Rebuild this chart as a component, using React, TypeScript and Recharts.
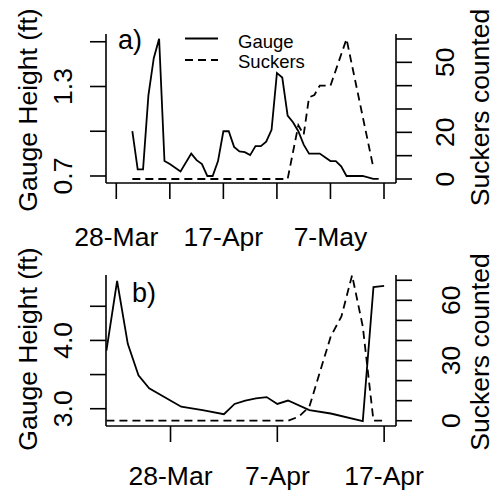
import React from 'react';
import { LineChart, Line, XAxis, YAxis, Customized } from 'recharts';

// ---- Panel a data (x = days after 28-Mar) ----
const gaugeADays = [3, 4, 5, 6, 7, 8, 9, 10, 12, 14, 15, 16, 17, 18, 19, 20, 21, 22, 23, 24, 25, 26, 27, 28, 29, 30, 31, 32, 33, 34, 35, 36, 38, 40, 41, 42, 43, 46, 48, 49];
const gaugeAValues = [1.0, 0.745, 0.745, 1.24, 1.49, 1.62, 0.8, 0.78, 0.73, 0.85, 0.806, 0.78, 0.7, 0.7, 0.8, 1.0, 1.0, 0.895, 0.865, 0.86, 0.84, 0.9, 0.9, 0.93, 1.01, 1.39, 1.36, 1.105, 1.06, 1.0, 0.91, 0.85, 0.85, 0.8, 0.8, 0.765, 0.7, 0.7, 0.68, 0.68];
const suckersADays = [3, 32, 34, 35, 36, 37, 38, 40, 43, 48];
const suckersAValues = [0, 0, 23, 19, 35, 36, 40, 40, 60, 5];

// ---- Panel b data (x = days after 28-Mar) ----
const gaugeBDays = [-6, -5, -4, -3, -2, 1, 3, 5, 6, 7, 8, 9, 10, 11, 13, 15, 18, 19, 20];
const gaugeBValues = [3.85, 4.87, 3.95, 3.49, 3.3, 3.03, 2.98, 2.92, 3.07, 3.12, 3.15, 3.17, 3.07, 3.12, 2.98, 2.93, 2.82, 4.78, 4.8];
const suckersBDays = [-6, 11, 12, 13, 15, 16, 17, 18, 19, 20];
const suckersBValues = [0, 0, 2, 7, 42, 52, 72.5, 47, 0, 0];

// ---- Ticks / labels ----
const xTicksA = [0, 10, 20, 30, 40, 50];
const xLabelsA: Record<number, string> = { 0: '28-Mar', 20: '17-Apr', 40: '7-May' };
const xTicksB = [0, 10, 20];
const xLabelsB: Record<number, string> = { 0: '28-Mar', 10: '7-Apr', 20: '17-Apr' };
const leftTicksA = [0.7, 1.0, 1.3, 1.6];
const leftLabelsA: Record<string, string> = { '0.7': '0.7', '1.3': '1.3' };
const rightTicksA = [0, 10, 20, 30, 40, 50, 60];
const rightLabelsA: Record<string, string> = { '0': '0', '20': '20', '50': '50' };
const leftTicksB = [3.0, 3.5, 4.0, 4.5];
const leftLabelsB: Record<string, string> = { '3': '3.0', '4': '4.0' };
const rightTicksB = [0, 10, 20, 30, 40, 50, 60, 70];
const rightLabelsB: Record<string, string> = { '0': '0', '30': '30', '60': '60' };

const FONT = '"Liberation Sans", Arial, sans-serif';
const FS = 26.5;

const zip = (xs: number[], ys: number[]) => xs.map((d, i) => ({ d, v: ys[i] }));

const W = 498;

function xTick(labels: Record<number, string>, baseline: number) {
  return (p: any) => {
    const lab = labels[p.payload.value];
    if (!lab) return <g />;
    return (
      <text x={p.x} y={baseline} textAnchor="middle" fontFamily={FONT} fontSize={FS} fill="#000">
        {lab}
      </text>
    );
  };
}

function yTick(labels: Record<string, string>, bx: number) {
  return (p: any) => {
    const key = String(Number(p.payload.value));
    const lab = labels[key];
    if (!lab) return <g />;
    return (
      <text
        x={bx}
        y={p.y}
        transform={`rotate(-90, ${bx}, ${p.y})`}
        textAnchor="middle"
        fontFamily={FONT}
        fontSize={FS}
        fill="#000"
      >
        {lab}
      </text>
    );
  };
}

function RotText({ x, y, children, size = FS }: any) {
  return (
    <text x={x} y={y} transform={`rotate(-90, ${x}, ${y})`} textAnchor="middle" fontFamily={FONT} fontSize={size} fill="#000">
      {children}
    </text>
  );
}

const axisStroke = { stroke: '#000', strokeWidth: 1.6 };

function Panel(props: {
  top: number;
  height: number;
  gauge: { d: number; v: number }[];
  suckers: { d: number; v: number }[];
  xDomain: [number, number];
  xTicks: number[];
  xLabels: Record<number, string>;
  xBaseline: number;
  leftDomain: [number, number];
  leftTicks: number[];
  leftLabels: Record<string, string>;
  rightDomain: [number, number];
  rightTicks: number[];
  rightLabels: Record<string, string>;
  rightLabelX: number;
  xAxisHeight: number;
  overlay: () => React.ReactNode;
}) {
  return (
    <div style={{ position: 'absolute', left: 0, top: props.top, width: W, height: props.height }}>
      <LineChart width={W} height={props.height} margin={{ top: 34, right: 0, bottom: 0, left: 0 }}>
        <XAxis
          type="number"
          dataKey="d"
          domain={props.xDomain}
          allowDataOverflow
          ticks={props.xTicks}
          interval={0}
          tickSize={16}
          axisLine={axisStroke}
          tickLine={axisStroke}
          height={props.xAxisHeight}
          tick={xTick(props.xLabels, props.xBaseline)}
        />
        <YAxis
          yAxisId="left"
          orientation="left"
          type="number"
          domain={props.leftDomain}
          allowDataOverflow
          ticks={props.leftTicks}
          interval={0}
          width={106}
          tickSize={16}
          axisLine={axisStroke}
          tickLine={axisStroke}
          tick={yTick(props.leftLabels, 72)}
        />
        <YAxis
          yAxisId="right"
          orientation="right"
          type="number"
          domain={props.rightDomain}
          allowDataOverflow
          ticks={props.rightTicks}
          interval={0}
          width={102}
          tickSize={16}
          axisLine={axisStroke}
          tickLine={axisStroke}
          tick={yTick(props.rightLabels, props.rightLabelX)}
        />
        <Line
          yAxisId="left"
          data={props.gauge}
          dataKey="v"
          type="linear"
          stroke="#000"
          strokeWidth={1.8}
          dot={false}
          activeDot={false}
          isAnimationActive={false}
        />
        <Line
          yAxisId="right"
          data={props.suckers}
          dataKey="v"
          type="linear"
          stroke="#000"
          strokeWidth={1.8}
          strokeDasharray="8 5"
          dot={false}
          activeDot={false}
          isAnimationActive={false}
        />
        <Customized component={props.overlay as any} />
      </LineChart>
    </div>
  );
}

const overlayA = () => (
  <g>
    <RotText x={36.5} y={110}>Gauge Height (ft)</RotText>
    <RotText x={489} y={107.5}>Suckers counted</RotText>
    <text x={118} y={49} fontFamily={FONT} fontSize={27} fill="#000">a)</text>
    <line x1={185} x2={218} y1={38.5} y2={38.5} stroke="#000" strokeWidth={1.8} />
    <line x1={185} x2={218} y1={60} y2={60} stroke="#000" strokeWidth={1.8} strokeDasharray="8 5" />
    <text x={238} y={47.5} fontFamily={FONT} fontSize={18.5} fill="#000">Gauge</text>
    <text x={238} y={68.3} fontFamily={FONT} fontSize={18.5} fill="#000">Suckers</text>
  </g>
);

const overlayB = () => (
  <g>
    <RotText x={36.5} y={108}>Gauge Height (ft)</RotText>
    <RotText x={489} y={111}>Suckers counted</RotText>
    <text x={132} y={60.5} fontFamily={FONT} fontSize={27} fill="#000">b)</text>
  </g>
);

export default function App() {
  return (
    <div style={{ position: 'absolute', left: 0, top: 0, width: W, height: 491, background: '#fff' }}>
      <Panel
        top={0}
        height={258}
        gauge={zip(gaugeADays, gaugeAValues)}
        suckers={zip(suckersADays, suckersAValues)}
        xDomain={[-1.92, 52.24]}
        xTicks={xTicksA}
        xLabels={xLabelsA}
        xBaseline={246}
        leftDomain={[0.653, 1.652]}
        leftTicks={leftTicksA}
        leftLabels={leftLabelsA}
        rightDomain={[-1.71, 62.14]}
        rightTicks={rightTicksA}
        rightLabels={rightLabelsA}
        rightLabelX={454}
        xAxisHeight={75}
        overlay={overlayA}
      />
      <Panel
        top={241}
        height={250}
        gauge={zip(gaugeBDays, gaugeBValues)}
        suckers={zip(suckersBDays, suckersBValues)}
        xDomain={[-6.04, 21.11]}
        xTicks={xTicksB}
        xLabels={xLabelsB}
        xBaseline={244}
        leftDomain={[2.747, 4.958]}
        leftTicks={leftTicksB}
        leftLabels={leftLabelsB}
        rightDomain={[-2.64, 72.64]}
        rightTicks={rightTicksB}
        rightLabels={rightLabelsB}
        rightLabelX={460}
        xAxisHeight={65}
        overlay={overlayB}
      />
    </div>
  );
}
